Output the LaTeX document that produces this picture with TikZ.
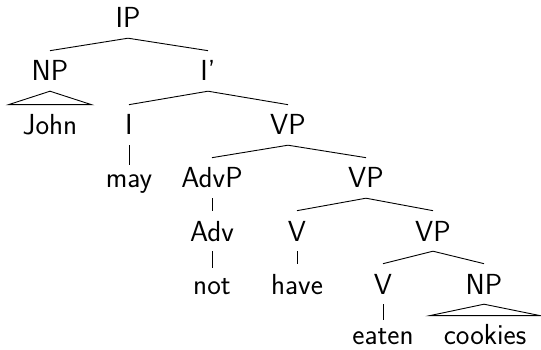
\documentclass[tikz,border=0pt]{standalone}
\usepackage{fontspec}
\begin{document}
\begin{tikzpicture}[x=1pt,y=-1pt,
  lbl/.style={anchor=base, font=\fontsize{29}{34}\selectfont\sffamily,
    inner xsep=0pt, inner ysep=0pt},
  roofed/.style={lbl, inner xsep=14pt},
  branch/.style={line width=0.9pt}]
\useasboundingbox (0,0) rectangle (541,350);

% labels, one row per tree level
\node[lbl] (ip) at (128,28) {IP};
\node[lbl] (np) at (50,81) {NP};
\node[lbl] (ibar) at (208,81) {I'};
\node[roofed] (john) at (50,135) {John};
\node[lbl] (i) at (129,135) {I};
\node[lbl] (vp) at (288,135) {VP};
\node[lbl] (may) at (129,188) {may};
\node[lbl] (advp) at (212,188) {AdvP};
\node[lbl] (vpb) at (366,188) {VP};
\node[lbl] (adv) at (212,241) {Adv};
\node[lbl] (v) at (297,241) {V};
\node[lbl] (vpc) at (433,241) {VP};
\node[lbl] (not) at (212,294) {not};
\node[lbl] (have) at (297,294) {have};
\node[lbl] (vb) at (383,294) {V};
\node[lbl] (npb) at (484,294) {NP};
\node[lbl] (eaten) at (383,344) {eaten};
\node[roofed] (cookies) at (485,344) {cookies};

% branches, kept 10pt clear of the labels
\draw[branch] ([yshift=-10pt]ip.south) -- ([yshift=10pt]np.north);
\draw[branch] ([yshift=-10pt]ip.south) -- ([yshift=10pt]ibar.north);
\draw[branch] ([yshift=-10pt]ibar.south) -- ([yshift=10pt]i.north);
\draw[branch] ([yshift=-10pt]ibar.south) -- ([yshift=10pt]vp.north);
\draw[branch] ([yshift=-10pt]i.south) -- ([yshift=10pt]may.north);
\draw[branch] ([yshift=-10pt]vp.south) -- ([yshift=10pt]advp.north);
\draw[branch] ([yshift=-10pt]vp.south) -- ([yshift=10pt]vpb.north);
\draw[branch] ([yshift=-10pt]advp.south) -- ([yshift=10pt]adv.north);
\draw[branch] ([yshift=-10pt]adv.south) -- ([yshift=10pt]not.north);
\draw[branch] ([yshift=-10pt]vpb.south) -- ([yshift=10pt]v.north);
\draw[branch] ([yshift=-10pt]vpb.south) -- ([yshift=10pt]vpc.north);
\draw[branch] ([yshift=-10pt]v.south) -- ([yshift=10pt]have.north);
\draw[branch] ([yshift=-10pt]vpc.south) -- ([yshift=10pt]vb.north);
\draw[branch] ([yshift=-10pt]vpc.south) -- ([yshift=10pt]npb.north);
\draw[branch] ([yshift=-10pt]vb.south) -- ([yshift=8pt]eaten.north);

% roofs over unanalysed phrases
\draw[branch] ([yshift=-10pt]np.south) -- ([yshift=10pt]john.north west)
  -- ([yshift=10pt]john.north east) -- cycle;
\draw[branch] ([yshift=-10pt]npb.south) -- ([yshift=8pt]cookies.north west)
  -- ([yshift=8pt]cookies.north east) -- cycle;
\end{tikzpicture}
\end{document}
